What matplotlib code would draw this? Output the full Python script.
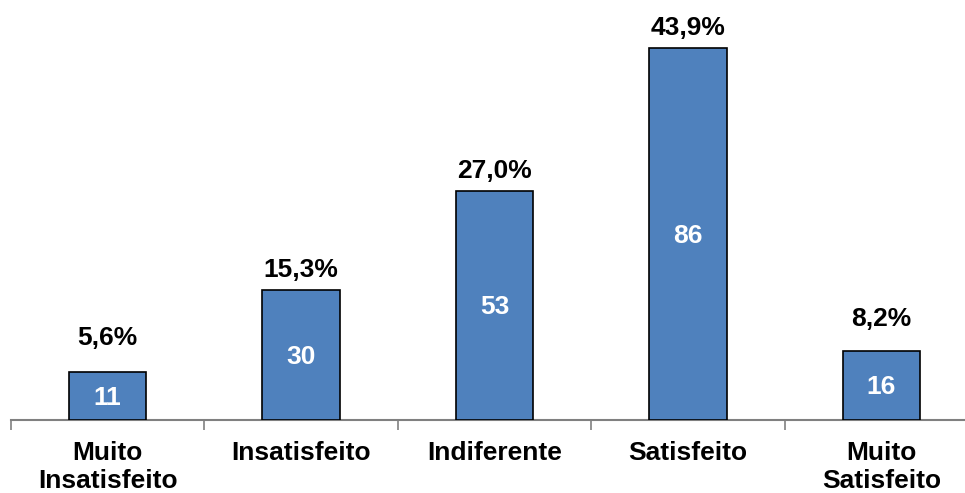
import numpy as np
import matplotlib.pyplot as plt

categories = ["Muito\nInsatisfeito", "Insatisfeito", "Indiferente", "Satisfeito", "Muito\nSatisfeito"]
counts = [11, 30, 53, 86, 16]
percents = ["5,6%", "15,3%", "27,0%", "43,9%", "8,2%"]

# gap (px) between bar top and the centre of its percentage label
label_gap = [34, 20, 20, 20, 32]

plt.rcParams['font.family'] = ['Liberation Sans', 'DejaVu Sans']

fig = plt.figure(figsize=(9.65, 4.93), dpi=100)
ax = fig.add_axes([11 / 965, 73 / 493, 967 / 965, 420 / 493])

x = np.arange(len(categories))
bars = ax.bar(x, counts, width=0.4, color="#4F81BD", edgecolor="black", linewidth=1.2, zorder=3)

for rect, n, p, g in zip(bars, counts, percents, label_gap):
    cx = rect.get_x() + rect.get_width() / 2
    ax.annotate(str(n), (cx, n / 2), xytext=(0, -1.5), textcoords="offset points",
                ha="center", va="center", color="white",
                fontsize=19, fontweight="bold", zorder=4)
    ax.annotate(p, (cx, n), xytext=(0, g * 0.72), textcoords="offset points",
                ha="center", va="center", fontsize=19, fontweight="bold")

ax.set_xlim(-0.5, len(categories) - 0.5)
ax.set_ylim(0, 97.1)

ax.set_xticks(x)
ax.set_xticklabels(categories, fontsize=19, fontweight="bold", linespacing=1.2)
ax.tick_params(axis="x", which="major", length=0, pad=15)
ax.set_xticks(np.arange(-0.5, len(categories)), minor=True)
ax.tick_params(axis="x", which="minor", length=7, width=1.2, color="#808080")
ax.set_yticks([])

for side in ["top", "right", "left"]:
    ax.spines[side].set_visible(False)
ax.spines["bottom"].set_color("#808080")
ax.spines["bottom"].set_linewidth(1.5)

fig.savefig("out.png", dpi=100)
